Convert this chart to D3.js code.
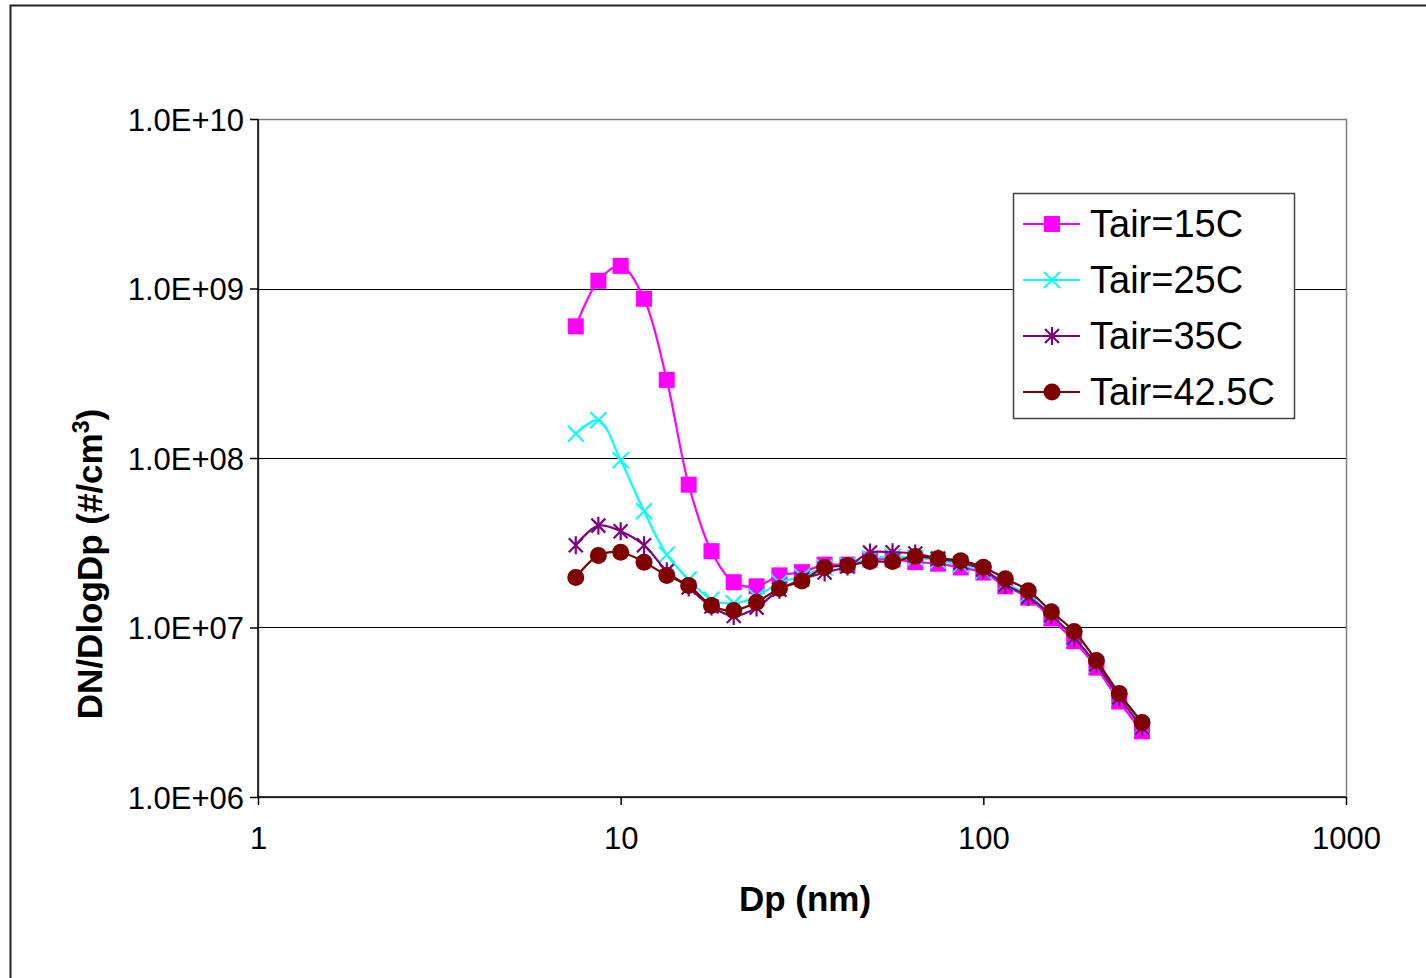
<!DOCTYPE html>
<html>
<head>
<meta charset="utf-8">
<script src="https://cdn.jsdelivr.net/npm/d3@7"></script>
<style>
  body { margin: 0; background: #fff; }
  svg { display: block; font-family: "Liberation Sans", Arial, sans-serif; }
</style>
</head>
<body>
<div id="graph"></div>
<script>
// particle size bins (nm)
var dp = [7.52, 8.68, 10.0, 11.6, 13.4, 15.4, 17.8, 20.5, 23.7, 27.4, 31.6, 36.5, 42.2,
          48.7, 56.2, 64.9, 75.0, 86.6, 100, 115, 133, 154, 178, 205, 237, 274];

var t15 = [5.98e8, 1.11e9, 1.36e9, 8.7e8, 2.89e8, 6.96e7, 2.82e7, 1.85e7, 1.75e7, 2.03e7, 2.12e7, 2.35e7, 2.35e7,
           2.52e7, 2.52e7, 2.43e7, 2.38e7, 2.26e7, 2.11e7, 1.75e7, 1.50e7, 1.13e7, 8.3e6, 5.8e6, 3.66e6, 2.44e6];
var t25 = [1.39e8, 1.67e8, 9.7e7, 4.85e7, 2.69e7, 1.92e7, 1.46e7, 1.39e7, 1.52e7, 1.84e7, 2.0e7, 2.26e7, 2.32e7,
           2.55e7, 2.62e7, 2.58e7, 2.48e7, 2.35e7, 2.17e7, 1.82e7, 1.56e7, 1.18e7, 8.7e6, 6.05e6, 3.9e6, 2.6e6];
var t35 = [3.06e7, 3.99e7, 3.70e7, 3.06e7, 2.15e7, 1.72e7, 1.33e7, 1.17e7, 1.31e7, 1.67e7, 1.92e7, 2.11e7, 2.29e7,
           2.77e7, 2.78e7, 2.73e7, 2.55e7, 2.42e7, 2.2e7, 1.79e7, 1.52e7, 1.18e7, 8.7e6, 6.05e6, 3.87e6, 2.57e6];
var t425 = [1.97e7, 2.66e7, 2.78e7, 2.43e7, 2.03e7, 1.77e7, 1.35e7, 1.26e7, 1.41e7, 1.70e7, 1.88e7, 2.26e7, 2.32e7,
            2.45e7, 2.45e7, 2.62e7, 2.55e7, 2.48e7, 2.27e7, 1.94e7, 1.65e7, 1.24e7, 9.47e6, 6.39e6, 4.08e6, 2.75e6];

var seriesNames = ["Tair=15C", "Tair=25C", "Tair=35C", "Tair=42.5C"];
var seriesVals = [t15, t25, t35, t425];
var seriesColors = ["#ff00ff", "#00ffff", "#800080", "#800000"];
var seriesMarks = ["square", "x", "star", "circle"];

var xTicks = [1, 10, 100, 1000];
var yTicks = [1e6, 1e7, 1e8, 1e9, 1e10];
var yTickLabels = ["1.0E+06", "1.0E+07", "1.0E+08", "1.0E+09", "1.0E+10"];

var width = 1426, height = 978;
var pLeft = 258, pRight = 1346, pTop = 119, pBottom = 797;

var svg = d3.select("#graph").append("svg")
    .attr("width", width)
    .attr("height", height);

// chart border
svg.append("rect")
    .attr("x", 10.5).attr("y", 5.5)
    .attr("width", 1600).attr("height", 1200)
    .attr("fill", "none")
    .attr("stroke", "#222")
    .attr("stroke-width", 2);

var x = d3.scaleLog().domain([1, 1000]).range([pLeft, pRight]);
var y = d3.scaleLog().domain([1e6, 1e10]).range([pBottom, pTop]);

// plot area
svg.append("rect")
    .attr("x", pLeft + 0.5).attr("y", pTop + 0.5)
    .attr("width", pRight - pLeft).attr("height", pBottom - pTop)
    .attr("fill", "#fff")
    .attr("stroke", "#808080")
    .attr("stroke-width", 1.5);

// gridlines
svg.append("g")
  .selectAll("line")
  .data(yTicks.slice(1, 4))
  .enter().append("line")
    .attr("x1", pLeft).attr("x2", pRight)
    .attr("y1", d => Math.round(y(d)) + 0.5)
    .attr("y2", d => Math.round(y(d)) + 0.5)
    .attr("stroke", "#000")
    .attr("stroke-width", 1);

// axes
var xAxis = d3.axisBottom(x)
    .tickValues(xTicks)
    .tickFormat(d3.format("d"))
    .tickSize(8)
    .tickPadding(22);
var yAxis = d3.axisLeft(y)
    .tickValues(yTicks)
    .tickFormat((d, i) => yTickLabels[i])
    .tickSize(8)
    .tickPadding(6);

var gx = svg.append("g")
    .attr("transform", "translate(0," + pBottom + ")")
    .call(xAxis);
var gy = svg.append("g")
    .attr("transform", "translate(" + pLeft + ",0)")
    .call(yAxis);

[gx, gy].forEach(g => {
  g.select(".domain").attr("stroke", "#000").attr("stroke-width", 1.5);
  g.selectAll(".tick line").attr("stroke", "#000").attr("stroke-width", 1.5);
  g.selectAll(".tick text")
    .attr("fill", "#000")
    .style("font-family", '"Liberation Sans", Arial, sans-serif')
    .style("font-size", "31px");
});
gx.select(".domain").attr("d", "M" + pLeft + ",0H" + pRight);
gy.select(".domain").attr("d", "M0," + pBottom + "V" + pTop);
gy.selectAll(".tick text").attr("dy", "0.36em");

// axis titles
svg.append("text")
    .attr("x", 805).attr("y", 911)
    .attr("text-anchor", "middle")
    .style("font-size", "35px")
    .style("font-weight", "bold")
    .text("Dp (nm)");

var yt = svg.append("text")
    .attr("transform", "translate(102,564) rotate(-90)")
    .attr("text-anchor", "middle")
    .style("font-size", "35px")
    .style("font-weight", "bold");
yt.append("tspan").text("DN/DlogDp (#/cm");
yt.append("tspan").attr("dy", -13).style("font-size", "23px").text("3");
yt.append("tspan").attr("dy", 13).text(")");

// markers
function drawMarker(g, kind, color, cx, cy) {
  if (kind === "square") {
    g.append("rect")
      .attr("x", cx - 8).attr("y", cy - 8)
      .attr("width", 16).attr("height", 16)
      .attr("fill", color);
  } else if (kind === "circle") {
    g.append("circle")
      .attr("cx", cx).attr("cy", cy).attr("r", 8.5)
      .attr("fill", color);
  } else if (kind === "x") {
    g.append("path")
      .attr("d", "M" + (cx - 8) + "," + (cy - 8) + "L" + (cx + 8) + "," + (cy + 8) +
                 "M" + (cx - 8) + "," + (cy + 8) + "L" + (cx + 8) + "," + (cy - 8))
      .attr("stroke", color).attr("stroke-width", 2).attr("fill", "none");
  } else {
    g.append("path")
      .attr("d", "M" + (cx - 7) + "," + (cy - 7) + "L" + (cx + 7) + "," + (cy + 7) +
                 "M" + (cx - 7) + "," + (cy + 7) + "L" + (cx + 7) + "," + (cy - 7) +
                 "M" + cx + "," + (cy - 9) + "L" + cx + "," + (cy + 9))
      .attr("stroke", color).attr("stroke-width", 2.2).attr("fill", "none");
  }
}

var line = d3.line()
    .x(d => x(d[0]))
    .y(d => y(d[1]))
    .curve(d3.curveCatmullRom.alpha(0.5));

seriesVals.forEach((vals, s) => {
  var pts = dp.map((d, i) => [d, vals[i]]);
  var g = svg.append("g");
  g.append("path")
    .datum(pts)
    .attr("d", line)
    .attr("fill", "none")
    .attr("stroke", seriesColors[s])
    .attr("stroke-width", 2.2);
  pts.forEach(p => drawMarker(g, seriesMarks[s], seriesColors[s], x(p[0]), y(p[1])));
});

// legend
var lg = svg.append("g");
lg.append("rect")
    .attr("x", 1013.5).attr("y", 193.5)
    .attr("width", 281).attr("height", 225)
    .attr("fill", "#fff")
    .attr("stroke", "#444")
    .attr("stroke-width", 1.5);

seriesNames.forEach((name, s) => {
  var ly = 224 + s * 56;
  lg.append("line")
    .attr("x1", 1023).attr("x2", 1080)
    .attr("y1", ly).attr("y2", ly)
    .attr("stroke", seriesColors[s])
    .attr("stroke-width", 2);
  drawMarker(lg, seriesMarks[s], seriesColors[s], 1052, ly);
  lg.append("text")
    .attr("x", 1090).attr("y", ly + 13)
    .style("font-size", "38px")
    .text(name);
});
</script>
</body>
</html>
